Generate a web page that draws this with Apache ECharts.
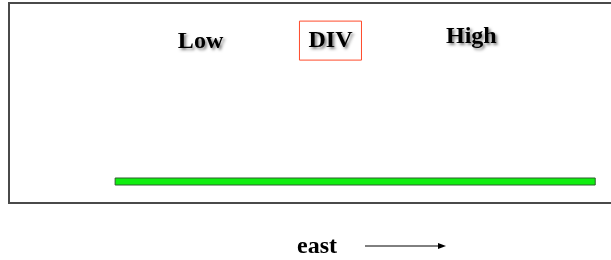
<!DOCTYPE html>
<html>
<head>
<meta charset="utf-8">
<script src="https://cdn.jsdelivr.net/npm/echarts@6/dist/echarts.min.js"></script>
<style>
  html, body { margin: 0; padding: 0; background: #fff; }
  #chart { width: 611px; height: 260px; }
</style>
</head>
<body>
<div id="chart"></div>
<script>
// region labels (position in the 0..100 frame)
const labelNames = ['Low', 'DIV', 'High'];
const labelX = [31.4, 52.7, 75.8];
const labelY = [80.4, 81.2, 83.0];

// green bar: start, end and level in the 0..100 frame
const barStart = [17.4];
const barEnd = [96.1];
const barLevel = [10.75];

const axisName = 'east';

// text look shared by all labels
const txt = {
  fontFamily: 'Liberation Serif',
  fontWeight: 'bold',
  fontSize: 24,
  color: '#000',
  opacity: 1,
  textShadowColor: 'rgba(0,0,0,0.5)',
  textShadowBlur: 3,
  textShadowOffsetX: 2,
  textShadowOffsetY: 2
};

const labelData = labelNames.map((n, i) => {
  let item = { name: n, value: [labelX[i], labelY[i]] };
  if (n === 'DIV') {
    item.label = {
      borderColor: '#ff4a2a',
      borderWidth: 1,
      padding: [8, 9, 7, 9],
      lineHeight: 24
    };
  }
  return item;
});

const barData = barStart.map((s, i) => [s, barEnd[i], barLevel[i]]);

var myChart = echarts.init(document.getElementById('chart'));
myChart.setOption({
  animation: false,
  grid: {
    show: true,
    left: 9, top: 3, width: 610, bottom: 57,
    outerBoundsMode: 'none',
    borderColor: '#4a4a4a',
    borderWidth: 2,
    backgroundColor: '#fff'
  },
  xAxis: { type: 'value', min: 0, max: 100, show: false },
  yAxis: { type: 'value', min: 0, max: 100, show: false },
  series: [
    {
      type: 'custom',
      data: barData,
      renderItem: function (params, api) {
        let a = api.coord([api.value(0), api.value(2)]);
        let b = api.coord([api.value(1), api.value(2)]);
        return {
          type: 'rect',
          shape: { x: a[0], y: a[1] - 3.5, width: b[0] - a[0], height: 7 },
          style: { fill: '#0fee0f', stroke: '#2f5f2f', lineWidth: 1 }
        };
      }
    },
    {
      type: 'scatter',
      symbolSize: 0,
      itemStyle: { opacity: 1 },
      data: labelData,
      label: Object.assign({
        show: true,
        position: 'inside',
        align: 'center',
        verticalAlign: 'middle',
        formatter: '{b}'
      }, txt)
    }
  ],
  graphic: [
    {
      type: 'text',
      x: 317, y: 247,
      style: {
        text: axisName,
        align: 'center',
        verticalAlign: 'middle',
        font: 'bold 24px "Liberation Serif"',
        fill: '#000',
        shadowColor: 'rgba(0,0,0,0.5)',
        shadowBlur: 3,
        shadowOffsetX: 2,
        shadowOffsetY: 2
      }
    },
    {
      type: 'line',
      shape: { x1: 365, y1: 246, x2: 440, y2: 246 },
      style: { stroke: '#000', lineWidth: 1 }
    },
    {
      type: 'polygon',
      shape: { points: [[438, 243], [446, 246], [438, 249]] },
      style: { fill: '#000' }
    }
  ]
});
</script>
</body>
</html>
